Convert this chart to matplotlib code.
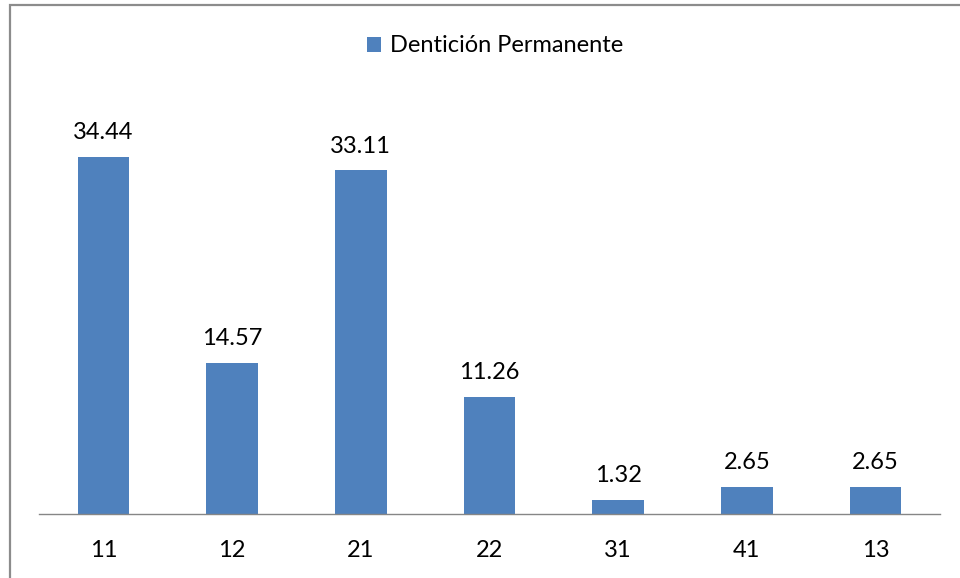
import matplotlib
matplotlib.use("Agg")
import matplotlib.pyplot as plt
from matplotlib.patches import Rectangle

# Data
categories = ["11", "12", "21", "22", "31", "41", "13"]
values = [34.44, 14.57, 33.11, 11.26, 1.32, 2.65, 2.65]
series_name = "Dentición Permanente"

BAR_COLOR = "#4F81BD"
plt.rcParams["font.family"] = ["Lato", "DejaVu Sans"]

W, H = 960, 578
fig = plt.figure(figsize=(W / 100, H / 100), dpi=100)

# outer chart border (only top and left are visible in the crop)
fig.patches.append(Rectangle((9.5 / W, -0.05), 1.2, (H - 5.5) / H + 0.05,
                             transform=fig.transFigure, fill=False,
                             edgecolor="#8c8c8c", linewidth=1.6))

ax = fig.add_axes([39 / W, (H - 514) / H, 901 / W, (514 - 99) / H])
x = range(len(categories))
bars = ax.bar(x, values, width=0.4, color=BAR_COLOR, label=series_name)
ax.set_xlim(-0.5, len(categories) - 0.5)
ax.set_ylim(0, 40)

for b, v in zip(bars, values):
    ax.annotate(f"{v:.2f}", (b.get_x() + b.get_width() / 2, v),
                xytext=(0, 10), textcoords="offset points",
                ha="center", va="bottom", fontsize=17)

ax.set_xticks(list(x))
ax.set_xticklabels(categories, fontsize=17)
ax.tick_params(axis="x", length=0, pad=19)
ax.set_yticks([])
for s in ("top", "right", "left"):
    ax.spines[s].set_visible(False)
ax.spines["bottom"].set_color("#868686")
ax.spines["bottom"].set_linewidth(1.0)

fig.legend(loc="center", bbox_to_anchor=(495 / W, (H - 46) / H), frameon=False,
           fontsize=17, handlelength=0.6, handleheight=0.6, handletextpad=0.4)

fig.savefig("out.png", dpi=100)
